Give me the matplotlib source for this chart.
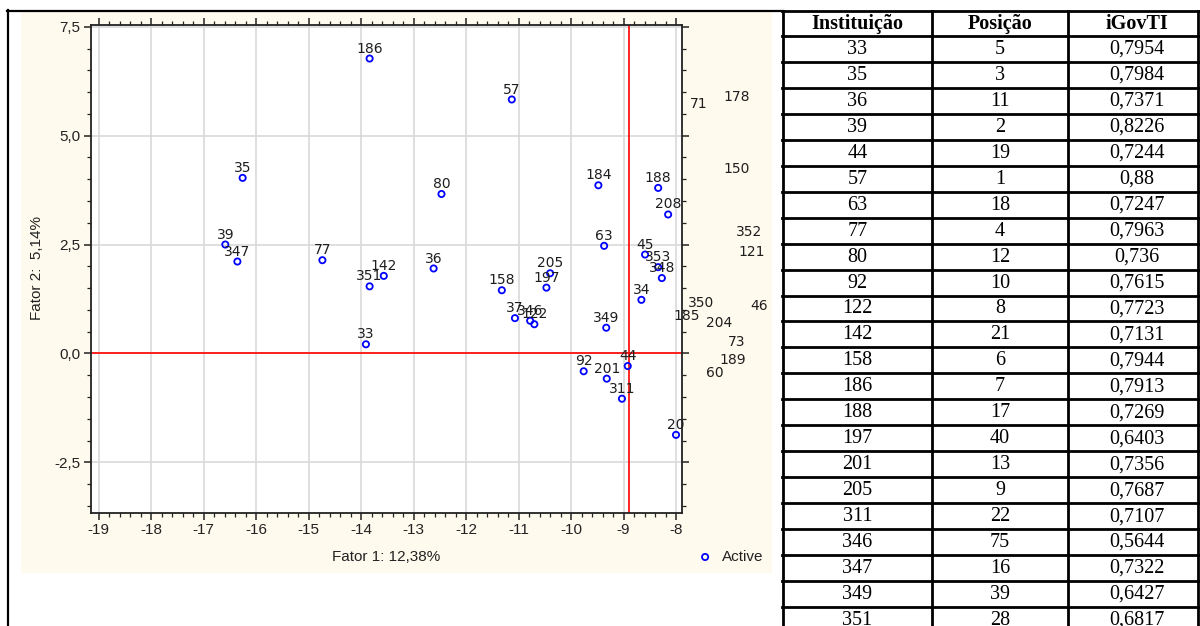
import matplotlib
matplotlib.use("Agg")
import matplotlib.pyplot as plt
from matplotlib.patches import Rectangle
from matplotlib.lines import Line2D
from matplotlib.ticker import MultipleLocator, FuncFormatter

# ---- scatter data: factor scores per institution ----
ids = ["186", "57", "35", "80", "184", "188", "208", "39", "347", "77",
       "142", "351", "36", "63", "45", "353", "348", "205", "197", "158",
       "34", "37", "346", "122", "349", "33", "92", "201", "44", "311", "20",
       "71", "178", "150", "352", "121", "350", "46", "185", "204", "73",
       "189", "60"]
fator1 = [-13.84, -11.13, -16.26, -12.47, -9.48, -8.34, -8.15, -16.59, -16.36, -14.74,
          -13.57, -13.84, -12.62, -9.37, -8.59, -8.34, -8.27, -10.40, -10.47, -11.32,
          -8.66, -11.07, -10.78, -10.70, -9.33, -13.91, -9.76, -9.32, -8.92, -9.03, -8.00,
          -7.57, -6.84, -6.84, -6.61, -6.56, -7.53, -6.42, -7.80, -7.18, -6.85,
          -6.92, -7.27]
fator2 = [6.77, 5.83, 4.03, 3.66, 3.86, 3.80, 3.19, 2.50, 2.11, 2.14,
          1.78, 1.54, 1.95, 2.47, 2.27, 1.98, 1.73, 1.84, 1.51, 1.45,
          1.23, 0.81, 0.75, 0.67, 0.59, 0.21, -0.41, -0.58, -0.29, -1.04, -1.87,
          5.50, 5.66, 4.00, 2.56, 2.09, 0.93, 0.85, 0.63, 0.47, 0.03,
          -0.38, -0.68]
ref_x = -8.9
ref_y = 0.0

# ---- ranking table ----
tab_header = ["Instituição", "Posição", "iGovTI"]
tab_inst = ["33", "35", "36", "39", "44", "57", "63", "77", "80", "92", "122", "142",
            "158", "186", "188", "197", "201", "205", "311", "346", "347", "349", "351"]
tab_pos = ["5", "3", "11", "2", "19", "1", "18", "4", "12", "10", "8", "21",
           "6", "7", "17", "40", "13", "9", "22", "75", "16", "39", "28"]
tab_igov = ["0,7954", "0,7984", "0,7371", "0,8226", "0,7244", "0,88", "0,7247",
            "0,7963", "0,736", "0,7615", "0,7723", "0,7131", "0,7944", "0,7913",
            "0,7269", "0,6403", "0,7356", "0,7687", "0,7107", "0,5644", "0,7322",
            "0,6427", "0,6817"]

W, H = 1200, 626
fig = plt.figure(figsize=(12, 6.26), dpi=100)
fig.patch.set_facecolor("white")


def fx(px):
    return px / W


def fy(py):
    return 1 - py / H


# cream chart panel
fig.add_artist(Rectangle((fx(21), fy(573)), fx(772) - fx(21), fy(12) - fy(573),
                         transform=fig.transFigure, facecolor="#fffaee",
                         edgecolor="none", zorder=0))

# cell frame around the chart
fig.add_artist(Line2D([fx(8), fx(8)], [fy(10), fy(626)], transform=fig.transFigure,
                      color="black", lw=1.6))
fig.add_artist(Line2D([fx(7.2), fx(783)], [fy(10.5), fy(10.5)], transform=fig.transFigure,
                      color="black", lw=1.6))

# ---- scatter axes ----
ax = fig.add_axes([fx(91), fy(512.7), (682 - 91) / W, (512.7 - 25) / H])
ax.set_facecolor("white")
ax.set_xlim(-19.15, -7.886)
ax.set_ylim(-3.657, 7.54)

ax.xaxis.set_major_locator(MultipleLocator(1))
ax.xaxis.set_minor_locator(MultipleLocator(0.2))
ax.yaxis.set_major_locator(MultipleLocator(2.5))
ax.yaxis.set_minor_locator(MultipleLocator(0.5))
ax.xaxis.set_major_formatter(FuncFormatter(lambda v, p: f"{v:.0f}"))
ax.yaxis.set_major_formatter(FuncFormatter(lambda v, p: f"{v:.1f}".replace(".", ",")))

ax.tick_params(which="both", direction="out", top=True, right=True,
               labeltop=False, labelright=False, color="#222222")
ax.tick_params(which="major", length=5, width=1.1, pad=2.5,
               labelsize=11, labelcolor="#222222")
ax.tick_params(which="minor", length=3, width=0.9)
for lab in ax.get_xticklabels() + ax.get_yticklabels():
    lab.set_fontfamily("Liberation Sans")
for sp in ax.spines.values():
    sp.set_color("#222222")
    sp.set_linewidth(1.3)

ax.grid(True, which="major", color="#d9d9d9", lw=1.2)
ax.set_axisbelow(True)

ax.axhline(ref_y, color="#ff0000", lw=1.2, zorder=2)
ax.axvline(ref_x, color="#ff0000", lw=1.2, zorder=2)

sc = ax.scatter(fator1, fator2, s=20, facecolors="none", edgecolors="#0000ff",
                linewidths=1.3, label="Active", zorder=3)

for lbl, x, y in zip(ids, fator1, fator2):
    ax.annotate(lbl, (x, y), xytext=(0, 4.3), textcoords="offset points",
                ha="center", va="baseline", fontsize=10, color="#1e1e1e",
                family="DejaVu Sans", annotation_clip=False, zorder=4)

# axis titles
fig.text(fx(386), fy(557), "Fator 1: 12,38%", ha="center", va="center",
         fontsize=11, family="Liberation Sans", color="#222222")
fig.text(fx(37), fy(268), "Fator 2:  5,14%", ha="center", va="center",
         rotation=90, fontsize=11, family="Liberation Sans", color="#222222")

leg = ax.legend(handles=[sc], labels=["Active"], loc="center left",
                bbox_to_anchor=(fx(699), fy(557)), bbox_transform=fig.transFigure,
                frameon=False, handlelength=0.8, handletextpad=0.7,
                borderpad=0, borderaxespad=0,
                prop={"family": "Liberation Sans", "size": 11})
for t in leg.get_texts():
    t.set_color("#222222")

# ---- table ----
col_edges = [783, 932, 1068, 1198]
col_centers = [857.5, 1000, 1137]
row_top = 10.5
head_bottom = 36
row_h = 25.95
n_rows = len(tab_inst)
row_edges = [row_top, head_bottom] + [head_bottom + (i + 1) * row_h for i in range(n_rows)]
tab_lw = 2.0
for y in row_edges:
    if y <= H + 5:
        fig.add_artist(Line2D([fx(col_edges[0] - 1), fx(col_edges[-1] + 1)], [fy(y), fy(y)],
                              transform=fig.transFigure, color="black", lw=tab_lw))
for x in col_edges:
    fig.add_artist(Line2D([fx(x), fx(x)], [fy(row_top), fy(H + 5)],
                          transform=fig.transFigure, color="black", lw=tab_lw))

for cx, txt in zip(col_centers, tab_header):
    fig.text(fx(cx), fy((row_top + head_bottom) / 2 + 1), txt, ha="center", va="center",
             fontsize=14.5, fontweight="bold", family="Liberation Serif", color="black")
for i, row in enumerate(zip(tab_inst, tab_pos, tab_igov)):
    yc = head_bottom + (i + 0.5) * row_h + 0.5
    for cx, txt in zip(col_centers, row):
        fig.text(fx(cx), fy(yc), txt, ha="center", va="center",
                 fontsize=14.5, family="Liberation Serif", color="black")

fig.savefig("out.png", dpi=100)
